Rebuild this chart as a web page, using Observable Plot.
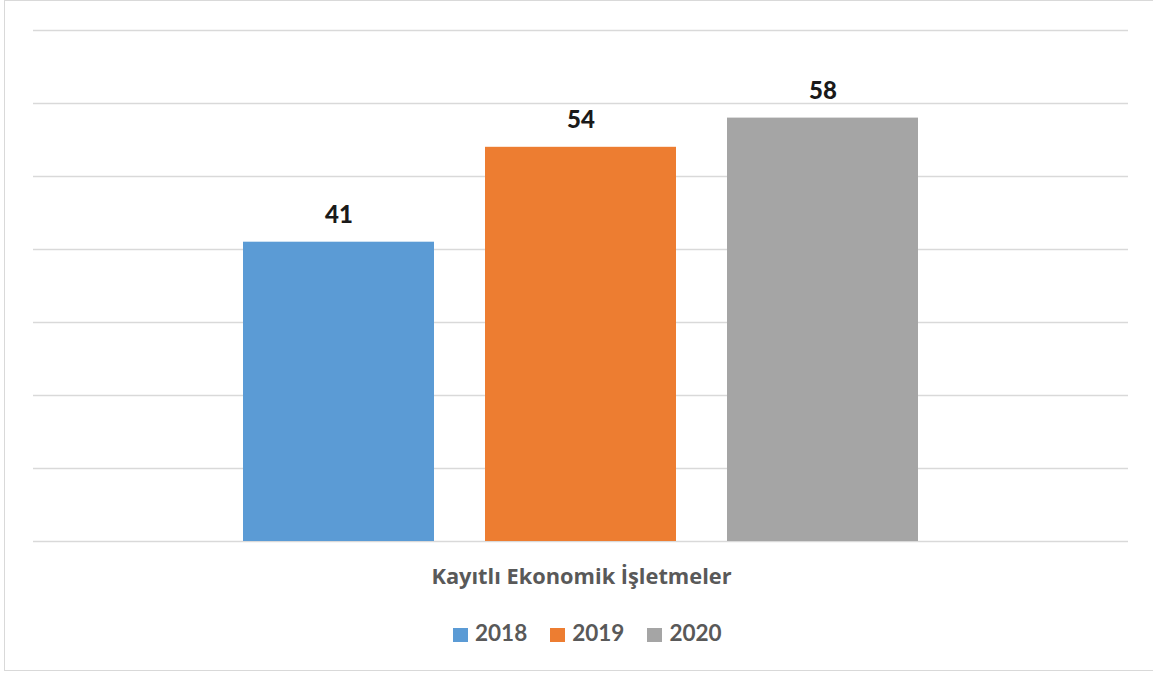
<!DOCTYPE html>
<html>
<head>
<meta charset="utf-8">
<script src="https://cdn.jsdelivr.net/npm/d3@7"></script>
<script src="https://cdn.jsdelivr.net/npm/@observablehq/plot@0.6"></script>
<style>
  html, body { margin: 0; padding: 0; background: #fff; }
  body { width: 1153px; height: 675px; position: relative; overflow: hidden; font-family: Lato, "Open Sans", sans-serif; }
  #frame { position: absolute; left: 4px; top: 0px; width: 1160px; height: 671px; border: 1.5px solid #d9d9d9; box-sizing: border-box; }
  #chart { position: absolute; left: 0; top: 0; }
  #cat { position: absolute; left: 0; width: 1163px; top: 561px; text-align: center; font-family: "Open Sans", sans-serif; font-weight: 700; font-size: 21.8px; color: #595959; }
  #legend { position: absolute; left: 453px; top: 619px; display: flex; font-weight: 700; font-size: 22.5px; color: #595959; }
  .item { display: flex; align-items: center; margin-right: 23px; }
  .sw { width: 15px; height: 14px; margin-right: 7px; margin-top: 4px; }
</style>
</head>
<body>
<div id="frame"></div>
<div id="chart"></div>
<div id="cat"></div>
<div id="legend"></div>
<script>
const category = "Kayıtlı Ekonomik İşletmeler";
const years = ["2018", "2019", "2020"];
const values = [41, 54, 58];
const colors = ["#5b9bd5", "#ed7d31", "#a5a5a5"];
const yTicks = [0, 10, 20, 30, 40, 50, 60, 70];

const data = years.map((y, i) => ({year: y, value: values[i]}));

const chart = Plot.plot({
  width: 1153,
  height: 560,
  marginLeft: 33,
  marginRight: 25,
  marginTop: 30,
  marginBottom: 19,
  x: {domain: years, paddingInner: 0.212, paddingOuter: 0.862, axis: null},
  y: {domain: [0, 70], axis: null},
  color: {domain: years, range: colors},
  style: {background: "transparent", fontFamily: "Lato, 'Open Sans', sans-serif"},
  marks: [
    Plot.ruleY(yTicks, {stroke: "#d9d9d9", strokeWidth: 1.3}),
    Plot.barY(data, {x: "year", y: "value", fill: "year"}),
    Plot.text(data, {x: "year", y: "value", text: d => String(d.value), dy: -27, fontSize: 24, fontWeight: 900, fill: "#1a1a1a"})
  ]
});
document.getElementById("chart").appendChild(chart);

document.getElementById("cat").textContent = category;

const legend = document.getElementById("legend");
years.forEach((y, i) => {
  const item = document.createElement("div");
  item.className = "item";
  const sw = document.createElement("div");
  sw.className = "sw";
  sw.style.background = colors[i];
  const t = document.createElement("span");
  t.textContent = y;
  item.appendChild(sw);
  item.appendChild(t);
  legend.appendChild(item);
});
</script>
</body>
</html>
